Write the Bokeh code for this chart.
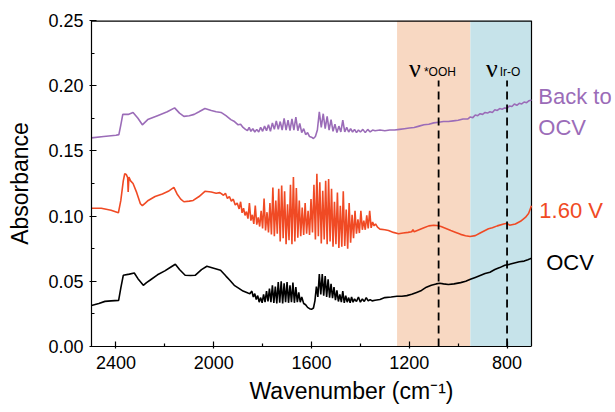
from bokeh.plotting import figure
from bokeh.models import Range1d, FixedTicker, PrintfTickFormatter
from bokeh.core.properties import value
from bokeh.embed import file_html
from bokeh.resources import INLINE

FONT = "Liberation Sans"
SERIF = "Liberation Serif"

# ---------------- data ----------------
x_ticks = [2400, 2000, 1600, 1200, 800]
x_minor = [2200, 1800, 1400, 1000]
y_ticks = [0.00, 0.05, 0.10, 0.15, 0.20, 0.25]
y_minor = [0.025, 0.075, 0.125, 0.175, 0.225]
x_start, x_stop = 2500, 700
y_start, y_stop = 0.0, 0.25

band_left = [1250, 950]
band_right = [950, 700]
band_colors = ["#F8D8C2", "#C6E3EA"]

peak_wn = [1080, 800]
peak_top = [0.204, 0.204]
peak_names = ["*OOH", "Ir-O"]

back_wn = [2500, 2450, 2400, 2388, 2380, 2372, 2350, 2330, 2310, 2292, 2270, 2230, 2190, 2160,
           2140, 2122, 2100, 2080, 2060, 2036, 2010, 1990, 1970, 1950, 1930, 1915, 1900, 1890,
           1880, 1870, 1862, 1855, 1848, 1840, 1832, 1824, 1816, 1808, 1800, 1792, 1784, 1776,
           1768, 1760, 1752, 1744, 1736, 1728, 1720, 1712, 1704, 1696, 1688, 1680, 1672, 1664,
           1656, 1648, 1640, 1632, 1624, 1616, 1608, 1600, 1592, 1584, 1576, 1568, 1560, 1552,
           1544, 1536, 1528, 1520, 1512, 1504, 1496, 1488, 1480, 1472, 1464, 1456, 1448, 1440,
           1432, 1424, 1416, 1408, 1400, 1390, 1380, 1370, 1360, 1350, 1340, 1320, 1300, 1280,
           1260, 1240, 1220, 1200, 1180, 1160, 1140, 1120, 1100, 1080, 1060, 1040, 1020, 1000,
           980, 960, 950, 940, 930, 920, 910, 900, 890, 880, 870, 860, 850, 840, 830, 820, 810,
           800, 790, 780, 770, 760, 750, 740, 730, 720, 710, 700]
back_abs = [0.160, 0.161, 0.162, 0.1625, 0.170, 0.178, 0.178, 0.1795, 0.175, 0.170, 0.174, 0.177,
            0.180, 0.183, 0.179, 0.1765, 0.177, 0.178, 0.180, 0.1825, 0.181, 0.180, 0.1795, 0.177,
            0.174, 0.1725, 0.170, 0.1705, 0.168, 0.1665, 0.1655, 0.168, 0.165, 0.167, 0.1645,
            0.1665, 0.1645, 0.168, 0.165, 0.169, 0.1655, 0.170, 0.165, 0.1715, 0.1665, 0.173,
            0.1665, 0.1725, 0.166, 0.175, 0.166, 0.1735, 0.1655, 0.1745, 0.166, 0.176, 0.1655,
            0.171, 0.164, 0.167, 0.1625, 0.164, 0.161, 0.1605, 0.1595, 0.161, 0.166, 0.180, 0.168,
            0.1785, 0.167, 0.1765, 0.166, 0.174, 0.165, 0.1705, 0.164, 0.169, 0.1645, 0.1735,
            0.1645, 0.168, 0.1645, 0.167, 0.1645, 0.1665, 0.164, 0.166, 0.1645, 0.1665, 0.164,
            0.1665, 0.1645, 0.166, 0.1655, 0.166, 0.1655, 0.166, 0.166, 0.1665, 0.167, 0.1675,
            0.168, 0.169, 0.170, 0.1705, 0.1715, 0.172, 0.1725, 0.1725, 0.173, 0.1735, 0.1745,
            0.1745, 0.176, 0.1755, 0.1775, 0.177, 0.1785, 0.178, 0.1795, 0.179, 0.180, 0.1795,
            0.1815, 0.181, 0.1825, 0.182, 0.183, 0.1825, 0.1845, 0.184, 0.186, 0.185, 0.1865,
            0.186, 0.1875, 0.187, 0.1885, 0.189]

v160_wn = [2500, 2460, 2420, 2390, 2380, 2370, 2364, 2358, 2352, 2350, 2347, 2340, 2330, 2315,
           2300, 2292, 2280, 2268, 2240, 2210, 2186, 2163, 2150, 2135, 2122, 2100, 2084, 2060,
           2036, 2010, 1990, 1975, 1960, 1952, 1944, 1936, 1928, 1920, 1912, 1904, 1896, 1890,
           1884, 1878, 1872, 1866, 1860, 1854, 1848, 1842, 1836, 1830, 1824, 1818, 1812, 1806,
           1800, 1794, 1788, 1782, 1776, 1770, 1764, 1758, 1752, 1746, 1740, 1734, 1728, 1722,
           1716, 1710, 1704, 1698, 1692, 1686, 1680, 1674, 1668, 1662, 1656, 1650, 1644, 1638,
           1632, 1626, 1620, 1614, 1608, 1602, 1596, 1590, 1584, 1578, 1572, 1566, 1560, 1554,
           1548, 1542, 1536, 1530, 1524, 1518, 1512, 1506, 1500, 1494, 1488, 1482, 1476, 1470,
           1464, 1458, 1452, 1446, 1440, 1434, 1428, 1422, 1416, 1410, 1404, 1398, 1392, 1386,
           1380, 1374, 1368, 1362, 1356, 1350, 1344, 1338, 1330, 1320, 1300, 1285, 1265, 1244,
           1225, 1205, 1190, 1185, 1180, 1160, 1140, 1120, 1100, 1087, 1070, 1050, 1030, 1012,
           990, 970, 951, 930, 910, 890, 876, 860, 840, 814, 800, 790, 766, 745, 725, 712, 700]
v160_abs = [0.106, 0.106, 0.1045, 0.1025, 0.112, 0.127, 0.1325, 0.132, 0.1295, 0.1185, 0.130,
            0.127, 0.125, 0.118, 0.1095, 0.108, 0.110, 0.112, 0.115, 0.117, 0.119, 0.122, 0.117,
            0.113, 0.111, 0.1115, 0.112, 0.115, 0.119, 0.1185, 0.1175, 0.118, 0.116, 0.1175,
            0.1135, 0.115, 0.1115, 0.113, 0.1085, 0.110, 0.1055, 0.111, 0.1025, 0.106, 0.1005,
            0.1035, 0.098, 0.110, 0.0965, 0.101, 0.094, 0.108, 0.0935, 0.099, 0.092, 0.104,
            0.0905, 0.1135, 0.089, 0.103, 0.0875, 0.110, 0.086, 0.122, 0.0845, 0.112, 0.0865,
            0.121, 0.0805, 0.1235, 0.083, 0.119, 0.0785, 0.109, 0.0815, 0.124, 0.0785, 0.130,
            0.0805, 0.1215, 0.0835, 0.112, 0.0845, 0.1065, 0.0855, 0.110, 0.0865, 0.104, 0.0855,
            0.113, 0.0875, 0.124, 0.082, 0.1325, 0.0845, 0.126, 0.079, 0.1195, 0.082, 0.127,
            0.0785, 0.1285, 0.0805, 0.121, 0.0765, 0.111, 0.0785, 0.118, 0.0755, 0.108, 0.0765,
            0.119, 0.077, 0.105, 0.075, 0.110, 0.0795, 0.101, 0.083, 0.104, 0.0865, 0.0975,
            0.087, 0.104, 0.0895, 0.0965, 0.0895, 0.1005, 0.0905, 0.104, 0.091, 0.0955, 0.0925,
            0.094, 0.0915, 0.090, 0.0895, 0.089, 0.0875, 0.0865, 0.087, 0.0875, 0.088, 0.0895,
            0.088, 0.0895, 0.091, 0.0925, 0.093, 0.0928, 0.092, 0.0905, 0.089, 0.0877, 0.086,
            0.085, 0.0843, 0.085, 0.087, 0.089, 0.0903, 0.091, 0.0925, 0.094, 0.0945, 0.093,
            0.094, 0.096, 0.099, 0.102, 0.108]

ocv_wn = [2500, 2470, 2445, 2420, 2389, 2380, 2370, 2345, 2325, 2310, 2288, 2275, 2261, 2230,
          2200, 2175, 2157, 2140, 2117, 2095, 2076, 2050, 2028, 2000, 1972, 1950, 1935, 1916,
          1900, 1880, 1860, 1852, 1844, 1838, 1832, 1826, 1820, 1814, 1808, 1802, 1796, 1790,
          1784, 1778, 1772, 1766, 1760, 1754, 1748, 1742, 1736, 1730, 1724, 1718, 1712, 1706,
          1700, 1694, 1688, 1682, 1676, 1670, 1664, 1658, 1652, 1646, 1640, 1632, 1624, 1616,
          1608, 1600, 1592, 1586, 1580, 1574, 1568, 1562, 1556, 1550, 1544, 1538, 1532, 1526,
          1520, 1514, 1508, 1502, 1496, 1490, 1484, 1478, 1472, 1466, 1460, 1454, 1448, 1442,
          1436, 1430, 1424, 1416, 1408, 1400, 1392, 1384, 1376, 1368, 1360, 1352, 1340, 1320,
          1300, 1274, 1250, 1230, 1210, 1190, 1170, 1150, 1130, 1110, 1090, 1075, 1060, 1040,
          1017, 990, 969, 950, 930, 910, 890, 870, 850, 830, 809, 790, 770, 750, 730, 715, 704,
          700]
ocv_abs = [0.0315, 0.033, 0.0346, 0.035, 0.0354, 0.045, 0.0546, 0.0555, 0.0564, 0.052, 0.0469,
           0.049, 0.0508, 0.055, 0.058, 0.061, 0.0631, 0.059, 0.0546, 0.0545, 0.0546, 0.059,
           0.0615, 0.060, 0.0585, 0.054, 0.051, 0.0469, 0.045, 0.0425, 0.041, 0.0405, 0.0425,
           0.038, 0.0405, 0.036, 0.039, 0.034, 0.0375, 0.0335, 0.040, 0.034, 0.0425, 0.0345,
           0.0445, 0.034, 0.047, 0.0335, 0.046, 0.033, 0.0495, 0.0335, 0.050, 0.033, 0.0485,
           0.034, 0.0495, 0.0335, 0.047, 0.034, 0.049, 0.0335, 0.0455, 0.034, 0.0415, 0.034,
           0.038, 0.033, 0.032, 0.030, 0.029, 0.0285, 0.0295, 0.035, 0.046, 0.038, 0.0555,
           0.040, 0.0555, 0.039, 0.054, 0.038, 0.0515, 0.0375, 0.048, 0.037, 0.0455, 0.0355,
           0.043, 0.0345, 0.040, 0.034, 0.0425, 0.0335, 0.039, 0.034, 0.0375, 0.0335, 0.038,
           0.034, 0.0365, 0.0345, 0.038, 0.034, 0.0365, 0.0345, 0.0375, 0.035, 0.036, 0.035,
           0.0355, 0.036, 0.0375, 0.038, 0.0385, 0.0385, 0.039, 0.040, 0.0415, 0.043, 0.0455,
           0.047, 0.048, 0.0485, 0.048, 0.0475, 0.048, 0.049, 0.050, 0.0515, 0.053, 0.0545,
           0.056, 0.057, 0.059, 0.0605, 0.0623, 0.063, 0.064, 0.065, 0.0655, 0.0665, 0.0674,
           0.0675]

label_texts = ["Back to", "OCV", "1.60 V", "OCV"]
label_wn = [672, 672, 668, 640]
label_abs = [0.1915, 0.168, 0.1046, 0.0646]
series_colors = ["#9B6CB8", "#F04A24", "#000000"]
label_colors = [series_colors[0], series_colors[0], series_colors[1], series_colors[2]]

# ---------------- layout ----------------
data_frame_px = 440          # pixels spanned by the 2500..700 data window
extra_px = 80                # blank room right of the data window for the labels
frame_w = data_frame_px + extra_px
x_end = x_stop - extra_px * (x_start - x_stop) / data_frame_px

p = figure(frame_width=frame_w, frame_height=326, output_backend="svg", toolbar_location=None,
           x_range=Range1d(x_start, x_end), y_range=Range1d(y_start, y_stop),
           min_border_left=91, min_border_right=2, min_border_top=20, min_border_bottom=60)
p.background_fill_color = "white"
p.border_fill_color = "white"
p.grid.visible = False
p.outline_line_color = None

# shaded bands
p.quad(left=band_left, right=band_right, bottom=[y_start, y_start], top=[y_stop, y_stop],
       fill_color=band_colors, line_color=None)

# box edges (top and right) of the data window
p.line([x_start, x_stop], [y_stop, y_stop], line_color="black", line_width=2.4)
p.line([x_stop, x_stop], [y_start, y_stop], line_color="black", line_width=1.2)

# spectra
p.line(back_wn, back_abs, line_color=series_colors[0], line_width=1.6)
p.line(v160_wn, v160_abs, line_color=series_colors[1], line_width=1.6)
p.line(ocv_wn, ocv_abs, line_color=series_colors[2], line_width=1.6)

# dashed markers
for wn, top in zip(peak_wn, peak_top):
    p.line([wn, wn], [y_start, top], line_color="black", line_width=1.8, line_dash="8 5")

# nu labels
p.text(x=[1201, 886], y=[0.2133, 0.2133], text=["ν", "ν"], text_font=value(SERIF),
       text_font_size="26px", text_baseline="alphabetic", text_align="left", text_color="black")
p.text(x=[1140, 830], y=[0.2108, 0.2108], text=peak_names, text_font=value(FONT),
       text_font_size="12px", text_baseline="alphabetic", text_align="left", text_color="black")

# right-side series labels
p.text(x=label_wn, y=label_abs, text=label_texts, text_color=label_colors,
       text_font=value(FONT), text_font_size="22px", text_baseline="middle", text_align="left")

# axes
p.xaxis.ticker = FixedTicker(ticks=x_ticks, minor_ticks=x_minor)
p.yaxis.ticker = FixedTicker(ticks=y_ticks, minor_ticks=y_minor)
p.yaxis.formatter = PrintfTickFormatter(format="%.2f")
p.xaxis.formatter = PrintfTickFormatter(format="%d")
p.xaxis.bounds = (x_stop, x_start)

for ax in (p.xaxis, p.yaxis):
    ax.axis_line_width = 1.2
    ax.major_tick_in = 5
    ax.major_tick_out = 2
    ax.minor_tick_in = 3
    ax.minor_tick_out = 0
    ax.major_tick_line_width = 1.2
    ax.minor_tick_line_width = 1.2
    ax.major_label_text_font = FONT
    ax.major_label_text_font_size = "18px"
    ax.major_label_text_color = "black"
    ax.axis_label_text_font = FONT
    ax.axis_label_text_font_size = "23px"
    ax.axis_label_text_font_style = "normal"
    ax.axis_label_text_color = "black"

p.xaxis.axis_label = "Wavenumber (cm⁻¹)"
p.yaxis.axis_label = "Absorbance"
p.xaxis.major_label_standoff = 7
p.yaxis.major_label_standoff = 6
p.xaxis.axis_label_standoff = 6
p.yaxis.axis_label_standoff = 12

open("out.html", "w").write(file_html(p, INLINE))
